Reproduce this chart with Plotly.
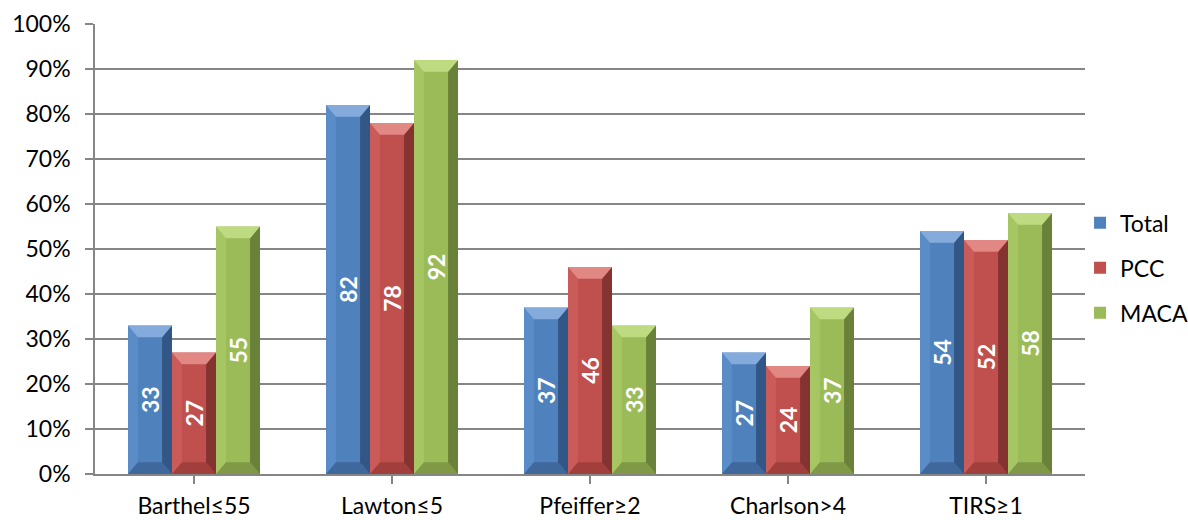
import plotly.graph_objects as go

categories = ["Barthel≤55", "Lawton≤5", "Pfeiffer≥2", "Charlson>4", "TIRS≥1"]
series_names = ["Total", "PCC", "MACA"]
total = [33, 82, 37, 27, 54]
pcc = [27, 78, 46, 24, 52]
maca = [55, 92, 33, 37, 58]
y_ticks = [0, 10, 20, 30, 40, 50, 60, 70, 80, 90, 100]
y_tick_labels = [f"{v}%" for v in y_ticks]

base_colors = ["#4F81BD", "#C0504D", "#9BBB59"]
light_colors = ["#8DB3E2", "#E6908E", "#C6E08A"]
dark_colors = ["#1F3A5F", "#5E1F1E", "#4A5A24"]
side_light = ["#5F91CD", "#D0605D", "#ABCB69"]
side_dark = ["#2C4A73", "#7A2A28", "#5D7030"]

series_values = [total, pcc, maca]
FONT = "Lato, Calibri, sans-serif"

fig = go.Figure()
for i, (name, vals) in enumerate(zip(series_names, series_values)):
    fig.add_trace(go.Bar(
        x=list(range(len(categories))), y=vals, name=name, legendgroup=name,
        marker=dict(color=base_colors[i], line=dict(width=0)),
        text=[str(v) for v in vals], textposition="inside",
        insidetextanchor="middle", textangle=-90,
        textfont=dict(family=FONT, size=23, color="white", weight="bold"),
        cliponaxis=False,
    ))

# bevel shapes computed from data
bargap = 1 / 3
bw = (1 - bargap) / 3
dx = 0.05
dy = 2.6
shapes = []

def poly(pts):
    return "M " + " L ".join(f"{px},{py}" for px, py in pts) + " Z"

for i, vals in enumerate(series_values):
    for c, v in enumerate(vals):
        x0 = c - 1.5 * bw + i * bw
        x1 = x0 + bw
        y0, y1 = 0, v
        # left
        shapes.append(dict(type="path", xref="x", yref="y", line=dict(width=0),
                           fillcolor=side_light[i], opacity=0.7, layer="above",
                           path=poly([(x0, y1), (x0 + dx, y1 - dy), (x0 + dx, y0 + dy), (x0, y0)])))
        # right
        shapes.append(dict(type="path", xref="x", yref="y", line=dict(width=0),
                           fillcolor=dark_colors[i], opacity=0.6, layer="above",
                           path=poly([(x1, y1), (x1, y0), (x1 - dx, y0 + dy), (x1 - dx, y1 - dy)])))
        # bottom
        shapes.append(dict(type="path", xref="x", yref="y", line=dict(width=0),
                           fillcolor=side_dark[i], opacity=0.45, layer="above",
                           path=poly([(x0, y0), (x0 + dx, y0 + dy), (x1 - dx, y0 + dy), (x1, y0)])))
        # top
        shapes.append(dict(type="path", xref="x", yref="y", line=dict(width=0),
                           fillcolor=light_colors[i], opacity=0.85, layer="above",
                           path=poly([(x0, y1), (x1, y1), (x1 - dx, y1 - dy), (x0 + dx, y1 - dy)])))

fig.update_layout(
    width=1188, height=520,
    margin=dict(l=95, r=103, t=24, b=46, autoexpand=False),
    paper_bgcolor="white", plot_bgcolor="white",
    barmode="group", bargap=bargap, bargroupgap=0,
    font=dict(family=FONT, size=23, color="#000000"),
    shapes=shapes,
    xaxis=dict(
        tickmode="array", tickvals=list(range(len(categories))), ticktext=categories,
        range=[-0.5, len(categories) - 0.5],
        showgrid=False, showline=True, linecolor="#868686", linewidth=1.5,
        ticks="outside", ticklen=8, tickcolor="#868686", tickwidth=1.5,
        ticklabelstandoff=3,
        tickfont=dict(size=23), zeroline=False,
    ),
    yaxis=dict(
        range=[0, 100], tickvals=y_ticks, ticktext=y_tick_labels,
        showgrid=True, gridcolor="#868686", gridwidth=1.5,
        showline=True, linecolor="#868686", linewidth=1.5,
        ticks="outside", ticklen=8, tickcolor="#868686", tickwidth=1.5,
        ticklabelstandoff=10,
        tickfont=dict(size=23), zeroline=False,
    ),
    legend=dict(x=0.995, xanchor="left", y=0.458, yanchor="middle",
                font=dict(size=23), tracegroupgap=12, itemwidth=30,
                traceorder="grouped",
                bgcolor="rgba(0,0,0,0)"),
)
fig.write_html("out.html")
